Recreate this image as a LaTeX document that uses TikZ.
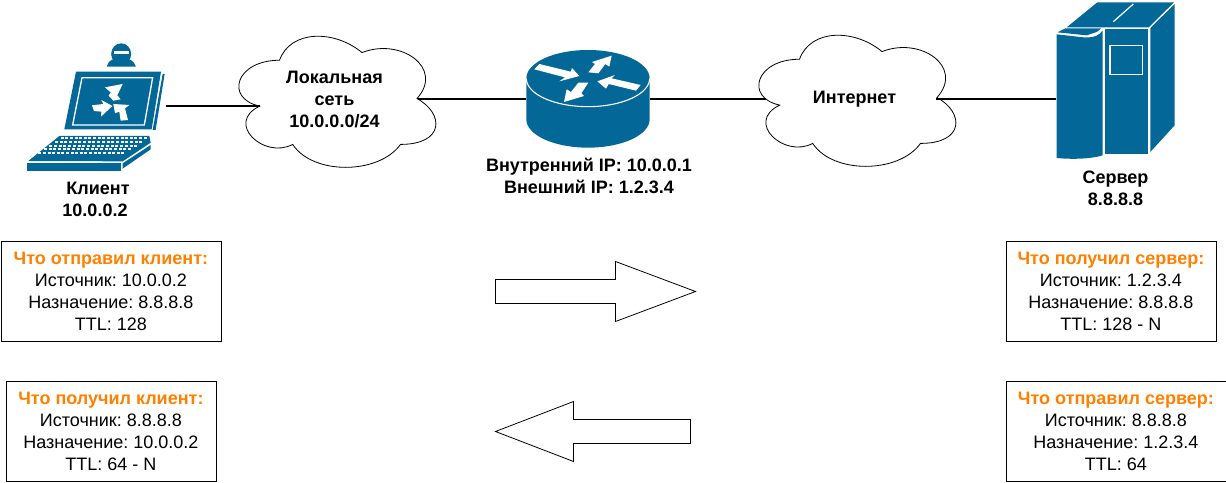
\documentclass[tikz,border=0pt]{standalone}
\usepackage{fontspec}
\setmainfont{Liberation Sans}
\frenchspacing
\definecolor{cisco}{HTML}{036897}
\definecolor{orng}{HTML}{FF8000}
\tikzset{
  x=1pt,y=-1pt,
  link/.style={line width=2.2pt,draw=black},
  icon/.style={fill=cisco,draw=none},
  whitefill/.style={fill=white,draw=none},
  whiteline/.style={draw=white,line width=1.1pt},
  infobox/.style={draw=black,line width=.8pt,align=center,inner sep=0pt,font=\fontsize{18}{22}\selectfont,anchor=north west},
  caption/.style={align=center,inner sep=0pt,font=\fontsize{18}{22}\selectfont\bfseries},
  bigarrow/.style={draw=black,line width=.8pt,fill=white},
}
\newcommand{\hd}[1]{{\bfseries\color{orng}#1}}
% name, x0, y0, text; w=220, h=153
\newcommand{\cloudshape}[4]{%
  \begin{scope}[shift={(#2,#3)},xscale=2.2,yscale=1.53]
    \draw[line width=.8pt,fill=white] (25,25)
      .. controls (5,25) and (0,50) .. (16,55)
      .. controls (0,66) and (18,90) .. (31,80)
      .. controls (40,100) and (70,100) .. (80,80)
      .. controls (100,80) and (100,60) .. (87.5,50)
      .. controls (100,30) and (80,10) .. (62.5,20)
      .. controls (50,5) and (30,5) .. (25,25) -- cycle;
  \end{scope}
  \node[caption] (#1) at (#2+110,99) {#4};
}
\begin{document}
\begin{tikzpicture}
\useasboundingbox (0,0) rectangle (1226,482);

% clouds
\cloudshape{lan}{224.5}{22}{Локальная\\сеть\\10.0.0.0/24}
\cloudshape{inet}{744.5}{21}{Интернет}

% laptop
\begin{scope}[shift={(0,30)},x=.3333pt,y=-.3333pt]
  \path[icon] (320,110) .. controls (322,100) and (328,92) .. (340,88) -- (388,88) .. controls (398,92) and (405,100) .. (408,110) -- cycle;
  \path[icon] (363.5,72) ellipse[x radius=30,y radius=32];
  \path[whitefill] (342,63) rectangle (386,72);
  \path[icon] (228,125) -- (483,125) -- (455,298) -- (193,298) -- cycle;
  \path[icon] (488,132) -- (494,132) -- (467,300) -- (458,300) -- cycle;
  \draw[whiteline,line width=1.3pt] (246,143) -- (458,143) -- (433,285) -- (218,285) -- cycle;
  \path[whitefill] (315,172) -- (368,162) -- (352,196) -- (362,208) -- (340,212) -- (326,197) -- (332,187) -- cycle;
  \path[whitefill] (276,226) -- (310,222) -- (304,210) -- (337,228) -- (303,260) -- (304,245) -- (282,243) -- cycle;
  \path[whitefill] (340,222) -- (388,225) -- (375,235) -- (384,270) -- (362,272) -- (358,245) -- (345,250) -- cycle;
  \path[icon] (178,318) -- (448,318) -- (452,338) -- (368,394) -- (85,393) -- cycle;
  \foreach \r/\xa/\xb/\yy in {0/182/445/322,1/165/432/333,2/148/417/344,3/132/398/355,4/115/378/366}{
    \foreach \k in {0,...,18}{
      \path[whitefill] ({\xa+(\xb-\xa)*\k/19},\yy) rectangle ++(9,6);
    }
  }
  \path[icon] (80,400) rectangle (362,422);
  \path[icon] (368,400) -- (452,345) -- (452,358) -- (368,416) -- cycle;
\end{scope}

% router
\begin{scope}[shift={(510,40)},x=.3333pt,y=-.3333pt]
  \path[icon] (49,115) arc[x radius=185,y radius=85,start angle=180,end angle=360] -- (419,238) arc[x radius=185,y radius=85,start angle=0,end angle=180] -- cycle;
  \draw[whiteline] (49,115) arc[x radius=185,y radius=85,start angle=180,end angle=0];
  \path[whitefill] (73,88) -- (88,72) -- (182,95) -- (186,84) -- (208,108) -- (148,124) -- (165,112) -- cycle;
  \path[whitefill] (235,97) -- (255,72) -- (246,66) -- (305,47) -- (298,80) -- (286,72) -- (265,100) -- cycle;
  \path[whitefill] (235,128) -- (214,160) -- (222,168) -- (162,186) -- (170,148) -- (183,156) -- (205,128) -- cycle;
  \path[whitefill] (262,124) -- (315,105) -- (305,115) -- (392,135) -- (378,152) -- (296,132) -- (288,146) -- cycle;
\end{scope}

% server
\begin{scope}[shift={(1040,0)},x=.3333pt,y=-.3333pt]
  \path[icon] (172,7) -- (402,7) -- (326,82) -- (80,82) -- cycle;
  \path[icon] (76,85) -- (184,85) -- (170,96) -- (140,106) -- (52,97) -- cycle;
  \path[icon] (50,103) -- (130,112) .. controls (165,114) and (178,105) .. (188,92) -- (188,466) .. controls (150,478) and (90,478) .. (50,474) -- cycle;
  \path[icon] (194,86) -- (324,86) -- (324,463) -- (194,463) -- cycle;
  \path[icon] (331,84) -- (404,12) -- (404,376) -- (331,456) -- cycle;
  \draw[whiteline,line width=1.2pt] (220,65) -- (280,12);
  \draw[whiteline,line width=1.3pt] (210,136) rectangle (308,224);
\end{scope}

% anchors of the icons and clouds
\coordinate (pc) at (166,106);
\coordinate (lan-l) at (260,106);
\coordinate (lan-r) at (418,99);
\coordinate (rt-l) at (526,99);
\coordinate (rt-r) at (650,99);
\coordinate (inet-l) at (766,99);
\coordinate (inet-r) at (936,99);
\coordinate (srv) at (1056,99);

% links
\draw[link] (pc) -- (lan-l);
\draw[link] (lan-r) -- (rt-l);
\draw[link] (rt-r) -- (inet-l);
\draw[link] (inet-r) -- (srv);

% captions
\node[caption] (c1) at (98,199) {Клиент\\10.0.0.2\,\,};
\node[caption] (c2) at (589,176) {Внутренний IP: 10.0.0.1\\Внешний IP: 1.2.3.4};
\node[caption] (c3) at (1115.5,188) {Сервер\\8.8.8.8};

% big arrows
\draw[bigarrow] (495.5,279.5) -- (615.5,279.5) -- (615.5,261.5) -- (695.5,291.5) -- (615.5,321.5) -- (615.5,303.5) -- (495.5,303.5) -- cycle;
\draw[bigarrow] (690.5,419.5) -- (573.5,419.5) -- (573.5,401.5) -- (495.5,431.5) -- (573.5,461.5) -- (573.5,443.5) -- (690.5,443.5) -- cycle;

% boxes
\node[infobox,minimum width=220pt,minimum height=100pt] (b1) at (0.5,241) {\hd{Что отправил клиент:}\\Источник: 10.0.0.2\\Назначение: 8.8.8.8\\TTL: 128};
\node[infobox,minimum width=210pt,minimum height=100pt] (b2) at (1005.5,241) {\hd{Что получил сервер:}\\Источник: 1.2.3.4\\Назначение: 8.8.8.8\\TTL: 128 - N};
\node[infobox,minimum width=210pt,minimum height=100pt] (b3) at (5.5,381) {\hd{Что получил клиент:}\\Источник: 8.8.8.8\\Назначение: 10.0.0.2\\TTL: 64 - N};
\node[infobox,minimum width=220pt,minimum height=100pt] (b4) at (1005.5,381) {\hd{Что отправил сервер:}\\Источник: 8.8.8.8\\Назначение: 1.2.3.4\\TTL: 64};
\end{tikzpicture}
\end{document}
